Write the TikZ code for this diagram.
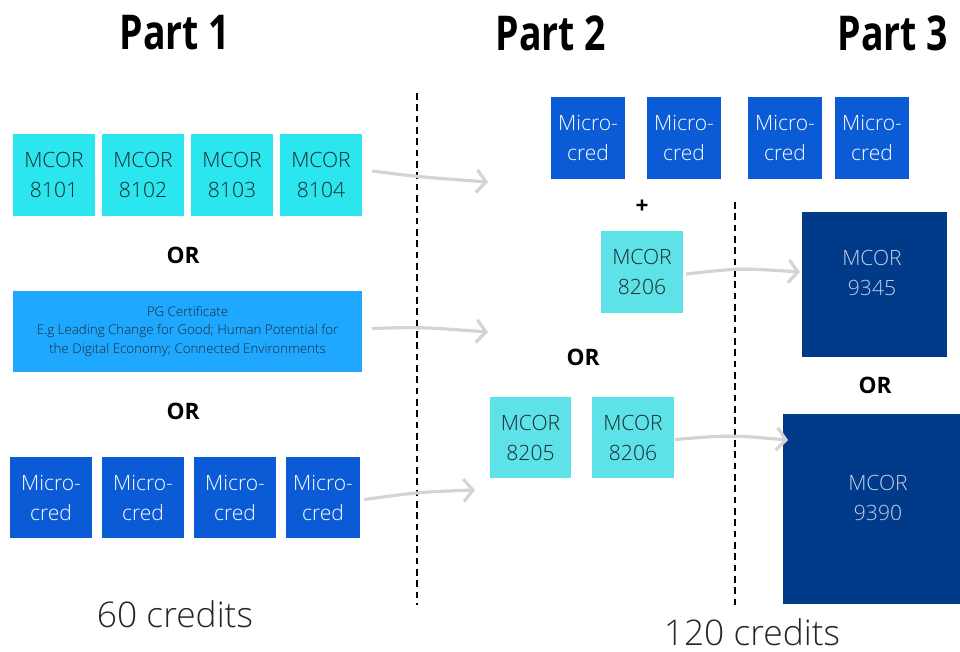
\documentclass[tikz,border=0pt]{standalone}
\usepackage{fontspec}
\setmainfont{Open Sans}[UprightFont={* Light},BoldFont={* Bold}]
\newfontfamily\headfont[FakeStretch=0.78,UprightFont={* Bold}]{Open Sans}
\usetikzlibrary{arrows.meta}
\definecolor{cyanA}{HTML}{2BE6EE}
\definecolor{cyanB}{HTML}{5DE2E7}
\definecolor{pgblue}{HTML}{1EA8FF}
\definecolor{microblue}{HTML}{0B5BD6}
\definecolor{deepblue}{HTML}{003A88}
\definecolor{deeptext}{HTML}{C5D1EA}
\definecolor{arrowgray}{HTML}{D4D4D4}
\definecolor{boxtext}{HTML}{1C2A2E}
\begin{document}
\begin{tikzpicture}[x=0.75pt,y=-0.75pt,
  box/.style={inner sep=0pt,outer sep=0pt,align=center,
     font=\fontsize{15.8}{22.5}\selectfont},
  cyanbox/.style={box,fill=cyanA,text=boxtext},
  cyanbox2/.style={box,fill=cyanB,text=boxtext},
  microbox/.style={box,fill=microblue,text=white},
  deepbox/.style={box,fill=deepblue,text=deeptext},
  orlabel/.style={font=\fontsize{17}{20}\selectfont\bfseries,inner sep=0pt},
  heading/.style={font=\headfont\fontsize{36}{40}\selectfont,inner sep=0pt},
  credits/.style={font=\fontsize{26.5}{30}\selectfont,text=black!85,inner sep=0pt},
  flow/.style={draw=arrowgray,line width=2.4pt,-{Straight Barb[length=7pt,width=17pt,line width=2.4pt]}},
  divider/.style={draw=black,line width=1.5pt,dash pattern=on 5pt off 3.5pt}
]
\useasboundingbox (0,0) rectangle (960,652);
% headings
\node[heading] (h1) at (175,33) {Part 1};
\node[heading] (h2) at (551,33) {Part 2};
\node[heading] (h3) at (893,33) {Part 3};
% dividers
\coordinate (d1t) at (417,93); \coordinate (d1b) at (417,605);
\coordinate (d2t) at (735,202); \coordinate (d2b) at (735,605);
\draw[divider] (d1t) -- (d1b);
\draw[divider] (d2t) -- (d2b);
% Part 1 row 1
\node[cyanbox,minimum width=82*0.75pt,minimum height=82*0.75pt] (a1) at (54,175) {MCOR\\8101};
\node[cyanbox,minimum width=82*0.75pt,minimum height=82*0.75pt] (a2) at (143,175) {MCOR\\8102};
\node[cyanbox,minimum width=82*0.75pt,minimum height=82*0.75pt] (a3) at (232,175) {MCOR\\8103};
\node[cyanbox,minimum width=82*0.75pt,minimum height=82*0.75pt] (a4) at (321,175) {MCOR\\8104};
\node[orlabel] (or1) at (183,255) {OR};
\node[box,fill=pgblue,text=boxtext,minimum width=349*0.75pt,minimum height=81*0.75pt,
  font=\fontsize{10}{14}\selectfont] (pg) at (187.5,331.5)
  {PG Certificate\\E.g Leading Change for Good; Human Potential for\\the Digital Economy; Connected Environments};
\node[orlabel] (or2) at (183,411) {OR};
\node[microbox,minimum width=82*0.75pt,minimum height=81*0.75pt] (m1) at (51,497.5) {Micro-\\cred};
\node[microbox,minimum width=82*0.75pt,minimum height=81*0.75pt] (m2) at (143,497.5) {Micro-\\cred};
\node[microbox,minimum width=82*0.75pt,minimum height=81*0.75pt] (m3) at (235,497.5) {Micro-\\cred};
\node[microbox,minimum width=74*0.75pt,minimum height=81*0.75pt] (m4) at (323,497.5) {Micro-\\cred};
\node[credits] (c60) at (175,614) {60 credits};
% Part 2
\node[microbox,minimum width=74*0.75pt,minimum height=82*0.75pt] (p1) at (588,138) {Micro-\\cred};
\node[microbox,minimum width=74*0.75pt,minimum height=82*0.75pt] (p2) at (684,138) {Micro-\\cred};
\node[microbox,minimum width=74*0.75pt,minimum height=82*0.75pt] (p3) at (785,138) {Micro-\\cred};
\node[microbox,minimum width=74*0.75pt,minimum height=82*0.75pt] (p4) at (872,138) {Micro-\\cred};
\node[orlabel] (plus) at (642,207) {+};
\node[cyanbox2,minimum width=82*0.75pt,minimum height=82*0.75pt] (q1) at (642,272) {MCOR\\8206};
\node[orlabel] (or3) at (583,357) {OR};
\node[cyanbox2,minimum width=81*0.75pt,minimum height=81*0.75pt] (r1) at (530.5,437.5) {MCOR\\8205};
\node[cyanbox2,minimum width=82*0.75pt,minimum height=81*0.75pt] (r2) at (633,437.5) {MCOR\\8206};
% Part 3
\node[box,fill=deepblue,minimum width=145*0.75pt,minimum height=145*0.75pt] (s1) at (874.5,284.5) {};
\node[box,text=deeptext] (s1t) at (872,273) {MCOR\\9345};
\node[orlabel] (or4) at (875,385) {OR};
\node[box,fill=deepblue,minimum width=178*0.75pt,minimum height=190*0.75pt] (s2) at (872,509) {};
\node[box,text=deeptext] (s2t) at (878,498) {MCOR\\9390};
\node[credits] (c120) at (752,632) {120 credits};
% arrows
\coordinate (e1) at (488,182);
\coordinate (e2) at (488,332);
\coordinate (e3) at (475,490);
\coordinate (e4) at (800,272);
\coordinate (e5) at (788,440);
\draw[flow] ([xshift=10*0.75pt,yshift=4*0.75pt]a4.east) .. controls (420,177) .. (e1);
\draw[flow] ([xshift=10*0.75pt,yshift=3*0.75pt]pg.east) .. controls (420,327) .. (e2);
\draw[flow] ([xshift=4*0.75pt,yshift=-2*0.75pt]m4.east) .. controls (420,492) .. (e3);
\draw[flow] ([xshift=3*0.75pt,yshift=-2*0.75pt]q1.east) .. controls (740,268) .. (e4);
\draw[flow] ([xshift=1*0.75pt,yshift=-2*0.75pt]r2.east) .. controls (730,435) .. (e5);
\end{tikzpicture}
\end{document}
